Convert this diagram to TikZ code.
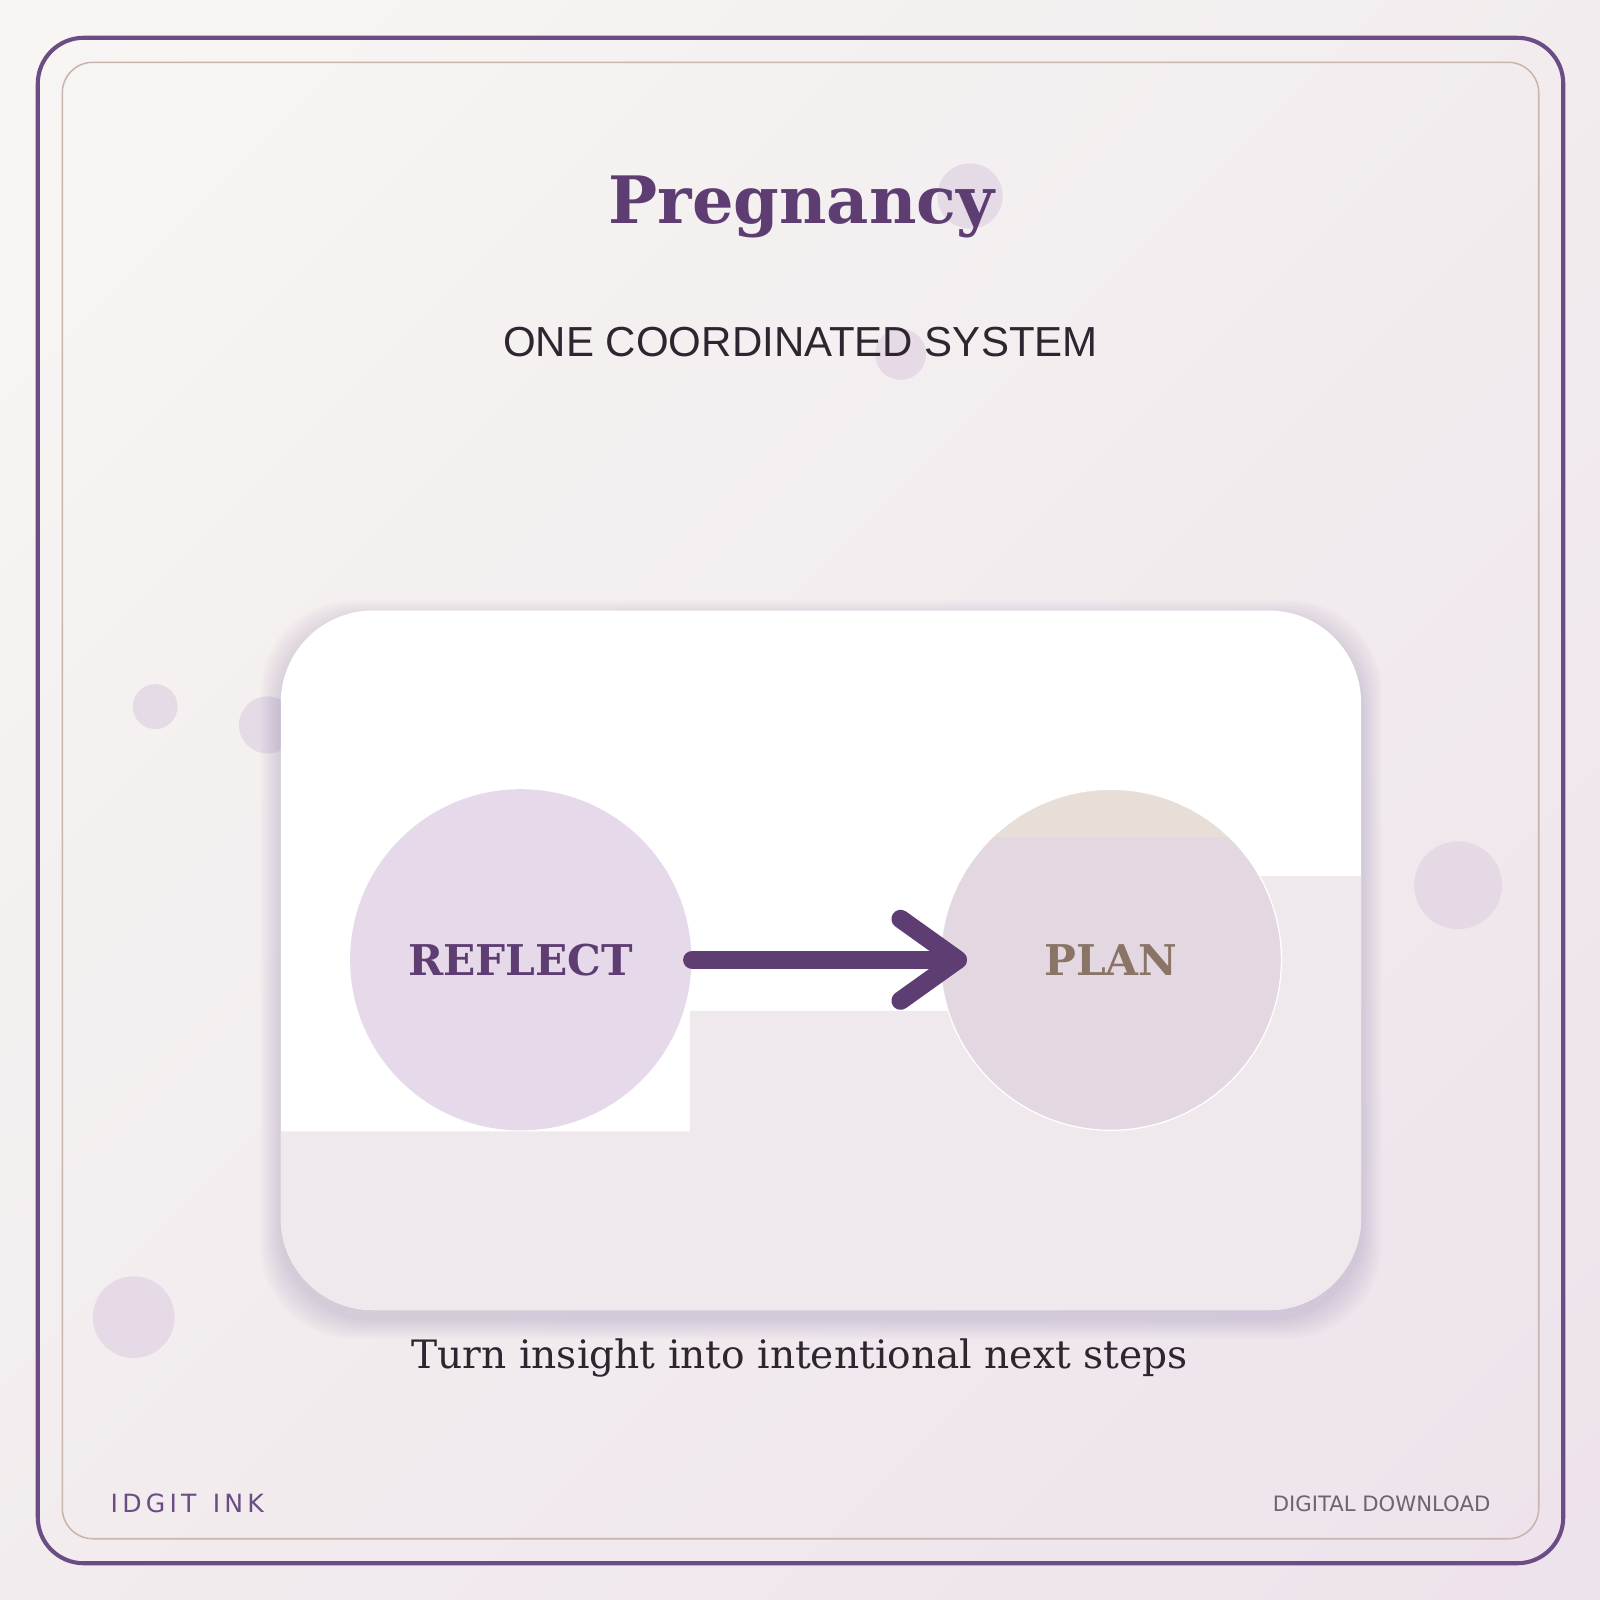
\documentclass[tikz,border=0pt]{standalone}
\usepackage{fontspec}
\setmainfont{DejaVu Serif}
\newfontfamily\subf{Liberation Sans}
\newfontfamily\dvs{DejaVu Sans}
\usetikzlibrary{shadings}
\definecolor{bgA}{HTML}{F8F6F3}
\definecolor{bgB}{HTML}{EDE2EC}
\definecolor{bgM}{HTML}{F2ECEE}
\definecolor{purp}{HTML}{5E3D72}
\definecolor{framec}{HTML}{6B4C85}
\definecolor{thinc}{HTML}{C8B5AC}
\definecolor{dot}{HTML}{E2D6E4}
\definecolor{grayband}{HTML}{EFE9EE}
\definecolor{cA}{HTML}{E5D9EA}
\definecolor{cB}{HTML}{E3D7E2}
\definecolor{beige}{HTML}{E7DED8}
\definecolor{brown}{HTML}{8A7466}
\definecolor{ink}{HTML}{2E2530}
\definecolor{greyc}{HTML}{6E6470}
\definecolor{shad}{HTML}{6B4C85}
\begin{document}
\begin{tikzpicture}[x=0.01cm,y=-0.01cm,
  dec/.style={fill=dot,opacity=0.8},
  circ/.style={circle,minimum size=3.34cm,inner sep=0pt},
  lab/.style={font=\bfseries\fontsize{11.8}{14}\selectfont}]
\shade[upper left=bgA,lower right=bgB,upper right=bgM,lower left=bgM] (0,0) rectangle (1600,1600);
\draw[framec,line width=0.04cm,rounded corners=0.45cm] (37,37) rectangle (1531,1531);
\draw[thinc,line width=0.015cm,rounded corners=0.3cm] (61,61) rectangle (1507,1507);
% decorative dots
\fill[dec] (950,192) circle (32);
\fill[dec] (882,347) circle (25);
\fill[dec] (152,692) circle (22);
\fill[dec] (262,710) circle (28);
\fill[dec] (1428,867) circle (43);
\fill[dec] (131,1290) circle (40);
\node[text=purp,font=\bfseries\fontsize{18.2}{22}\selectfont] (title) at (785,203) {Pregnancy};
\node[text=ink,font=\subf\fontsize{11.7}{14}\selectfont] (sub) at (784,335) {ONE COORDINATED SYSTEM};
% card shadow
\foreach \i in {1,...,10}{
  \fill[shad,opacity=0.018,rounded corners=0.9cm] (275-2*\i,598+10-2*\i) rectangle (1333+2*\i,1283+8+2*\i);
}
\fill[white,rounded corners=0.9cm] (275,598) rectangle (1333,1283);
\begin{scope}
\clip[rounded corners=0.9cm] (275,598) rectangle (1333,1283);
\fill[grayband] (275,1108)--(676,1108)--(676,990)--(1233,990)--(1233,858)--(1333,858)--(1333,1283)--(275,1283)--cycle;
\end{scope}
\node[circ,fill=cA] (reflect) at (510,940) {};
\node[lab,text=purp] at (reflect) {REFLECT};
\node[circ,fill=cB] (plan) at (1088,940) {};
\begin{scope}
\clip (1088,940) circle (167);
\fill[beige] (900,760) rectangle (1280,820);
\end{scope}
\draw[white,line width=0.012cm] (1088,940) circle (167);
\node[lab,text=brown] at (plan) {PLAN};
\coordinate (start) at (678,940);
\coordinate (tip) at (938,940);
\coordinate (up) at (882,900);
\coordinate (dn) at (882,980);
\draw[purp,line width=0.18cm,line cap=round,line join=round] (start) -- (tip);
\draw[purp,line width=0.18cm,line cap=round,line join=round] (up) -- (tip) -- (dn);
\node[text=ink,font=\fontsize{10.9}{13}\selectfont] (cap) at (783,1330) {Turn insight into intentional next steps};
\node[text=framec,anchor=west,font=\dvs\fontsize{7}{9}\selectfont] (brand) at (96,1472) {I\,D\,G\,I\,T\, \,I\,N\,K};
\node[text=greyc,anchor=east,font=\dvs\fontsize{5.9}{8}\selectfont] (dl) at (1472,1473) {DIGITAL DOWNLOAD};
\pgfresetboundingbox
\useasboundingbox (0,0) rectangle (1567,1567);
\end{tikzpicture}
\end{document}
